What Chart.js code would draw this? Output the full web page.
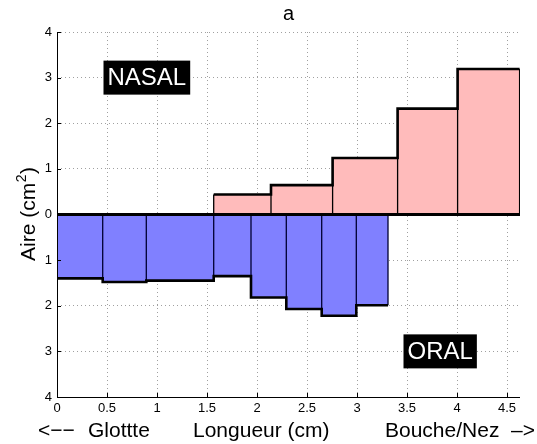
<!DOCTYPE html>
<html>
<head>
<meta charset="utf-8">
<script src="https://cdn.jsdelivr.net/npm/chart.js@4"></script>
<style>
  html, body { margin: 0; padding: 0; background: #fff; }
  #wrap { width: 537px; height: 444px; }
</style>
</head>
<body>
<div id="wrap"><canvas id="c" width="537" height="444"></canvas></div>
<script>
// ---- data ----
const oralEdges  = [0, 0.457, 0.893, 1.567, 1.94, 2.293, 2.647, 2.993, 3.31];
const oralArea   = [1.40, 1.48, 1.45, 1.35, 1.82, 2.07, 2.22, 1.99];
const nasalEdges = [1.567, 2.14, 2.756, 3.406, 4.006, 4.626];
const nasalArea  = [0.44, 0.644, 1.24, 2.32, 3.19];
const xTicks = [0, 0.5, 1, 1.5, 2, 2.5, 3, 3.5, 4, 4.5];
const yTicks = [-4, -3, -2, -1, 0, 1, 2, 3, 4];
const xMax = 4.63;
const titleText = 'a';
const xLabelParts = ['<−−', 'Glottte', 'Longueur (cm)', 'Bouche/Nez', '–>'];
const yLabelMain = 'Aire (cm';
const yLabelSup = '2';
const nasalLabel = 'NASAL';
const oralLabel = 'ORAL';

const FONT = '"Liberation Sans", Arial, Helvetica, sans-serif';

function envelope(edges, vals, sign) {
  const pts = vals.map((v, i) => ({x: edges[i], y: sign * v}));
  pts.push({x: edges[edges.length - 1], y: sign * vals[vals.length - 1]});
  return pts;
}
function dividers(edges, vals, sign) {
  const pts = [];
  vals.forEach((v, i) => {
    pts.push({x: edges[i], y: 0}, {x: edges[i], y: sign * v}, {x: edges[i], y: null});
    pts.push({x: edges[i + 1], y: 0}, {x: edges[i + 1], y: sign * v}, {x: edges[i + 1], y: null});
  });
  return pts;
}

const common = { pointRadius: 0, pointHoverRadius: 0, tension: 0, spanGaps: false };

const overlay = {
  id: 'overlay',
  afterDraw(chart) {
    const {ctx, chartArea: a, scales: {x, y}} = chart;
    ctx.save();
    // axes
    ctx.strokeStyle = '#000';
    ctx.lineWidth = 1;
    ctx.beginPath();
    ctx.moveTo(a.left + 0.5, a.top);
    ctx.lineTo(a.left + 0.5, a.bottom + 0.5);
    ctx.lineTo(a.right, a.bottom + 0.5);
    ctx.stroke();
    // inward major ticks
    ctx.beginPath();
    xTicks.forEach(t => {
      const px = Math.round(x.getPixelForValue(t)) + 0.5;
      ctx.moveTo(px, a.bottom); ctx.lineTo(px, a.bottom - 4);
    });
    yTicks.forEach(t => {
      const py = Math.round(y.getPixelForValue(t)) + 0.5;
      ctx.moveTo(a.left, py); ctx.lineTo(a.left + 4, py);
    });
    ctx.stroke();

    // annotation boxes
    ctx.font = '24px ' + FONT;
    ctx.textBaseline = 'middle';
    ctx.textAlign = 'left';
    [[nasalLabel, 0.5, 3], [oralLabel, 3.5, -3]].forEach(([txt, vx, vy]) => {
      const px = x.getPixelForValue(vx) + 0.5;
      const py = y.getPixelForValue(vy);
      const w = ctx.measureText(txt).width;
      ctx.fillStyle = '#000';
      ctx.fillRect(px - 4, py - 17, w + 8, 34);
      ctx.fillStyle = '#fff';
      ctx.fillText(txt, px, py + 1);
    });

    // title
    ctx.fillStyle = '#000';
    ctx.font = '20px ' + FONT;
    ctx.textAlign = 'center';
    ctx.textBaseline = 'alphabetic';
    ctx.fillText(titleText, (a.left + a.right) / 2, 20);

    // x label pieces
    ctx.font = '21px ' + FONT;
    ctx.textAlign = 'left';
    const lefts = [38, 88, 193, 385];
    for (let i = 0; i < 4; i++) ctx.fillText(xLabelParts[i], lefts[i], 437);
    ctx.textAlign = 'right';
    ctx.fillText(xLabelParts[4], 535, 437);

    // y label (rotated, with superscript)
    ctx.save();
    ctx.translate(35, (a.top + a.bottom) / 2);
    ctx.rotate(-Math.PI / 2);
    ctx.font = '21px ' + FONT;
    const w1 = ctx.measureText(yLabelMain).width;
    ctx.font = '14px ' + FONT;
    const w2 = ctx.measureText(yLabelSup).width;
    ctx.font = '21px ' + FONT;
    const w3 = ctx.measureText(')').width;
    let sx = -(w1 + w2 + w3) / 2;
    ctx.textAlign = 'left';
    ctx.fillText(yLabelMain, sx, 0);
    ctx.font = '14px ' + FONT;
    ctx.fillText(yLabelSup, sx + w1 + 0.5, -9);
    ctx.font = '21px ' + FONT;
    ctx.fillText(')', sx + w1 + w2 + 1, 0);
    ctx.restore();

    ctx.restore();
  }
};

new Chart(document.getElementById('c'), {
  type: 'line',
  data: {
    datasets: [
      // fills
      Object.assign({ data: envelope(nasalEdges, nasalArea, 1), stepped: 'before', fill: 'origin',
        backgroundColor: 'rgb(255,187,187)', borderWidth: 0, borderColor: 'rgba(0,0,0,0)', order: 10 }, common),
      Object.assign({ data: envelope(oralEdges, oralArea, -1), stepped: 'before', fill: 'origin',
        backgroundColor: 'rgb(128,128,255)', borderWidth: 0, borderColor: 'rgba(0,0,0,0)', order: 10 }, common),
      // bar dividers
      Object.assign({ data: dividers(nasalEdges, nasalArea, 1), fill: false,
        borderColor: '#000', borderWidth: 1.3, order: 5 }, common),
      Object.assign({ data: dividers(oralEdges, oralArea, -1), fill: false,
        borderColor: '#000033', borderWidth: 1.3, order: 5 }, common),
      // thick envelopes
      Object.assign({ data: envelope(nasalEdges, nasalArea, 1), stepped: 'before', fill: false,
        borderColor: '#000', borderWidth: 2.6, borderJoinStyle: 'miter', order: 2 }, common),
      Object.assign({ data: envelope(oralEdges, oralArea, -1), stepped: 'before', fill: false,
        borderColor: '#000', borderWidth: 2.6, borderJoinStyle: 'miter', order: 2 }, common),
      // zero line
      Object.assign({ data: [{x: 0, y: 0}, {x: xMax, y: 0}], fill: false,
        borderColor: '#000', borderWidth: 2.8, order: 1 }, common)
    ]
  },
  options: {
    responsive: false,
    animation: false,
    events: [],
    layout: { padding: { top: 32, right: 17, left: 0, bottom: 0 } },
    plugins: { legend: { display: false }, tooltip: { enabled: false }, title: { display: false } },
    scales: {
      x: {
        type: 'linear', min: 0, max: xMax,
        afterFit(s) { s.height = 47; },
        afterBuildTicks(s) { s.ticks = xTicks.map(v => ({value: v})); },
        ticks: { color: '#000', font: { family: FONT, size: 13 }, padding: 4, maxRotation: 0,
                 callback: v => String(v) },
        grid: { color: '#a0a0a0', lineWidth: 1, drawTicks: false },
        border: { display: false, dash: [1, 3] }
      },
      y: {
        type: 'linear', min: -4, max: 4,
        afterFit(s) { s.width = 57; },
        afterBuildTicks(s) { s.ticks = yTicks.map(v => ({value: v})); },
        ticks: { color: '#000', font: { family: FONT, size: 13 }, padding: 5,
                 callback: v => String(Math.abs(v)) },
        grid: { color: '#a0a0a0', lineWidth: 1, drawTicks: false },
        border: { display: false, dash: [1, 3] }
      }
    }
  },
  plugins: [overlay]
});
</script>
</body>
</html>
